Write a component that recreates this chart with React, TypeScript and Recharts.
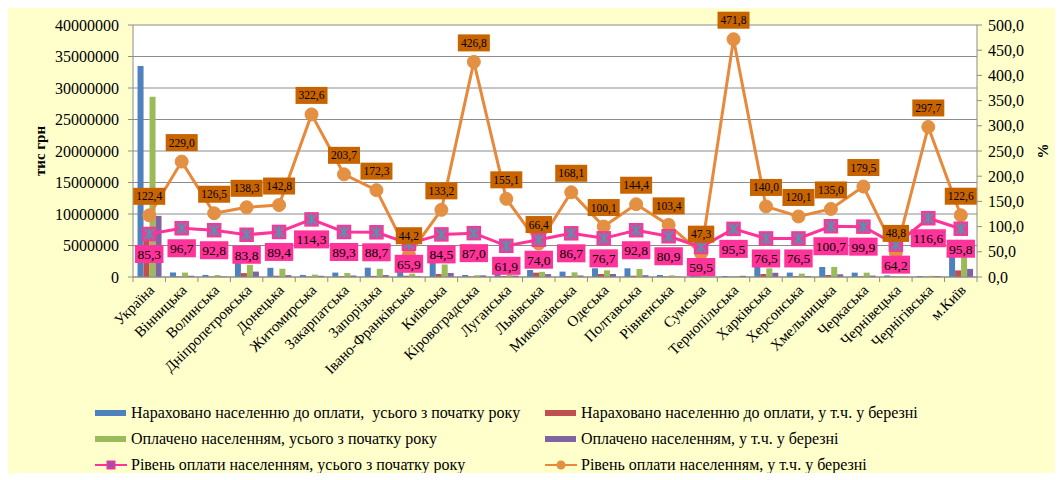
import React from "react";
import {
  ComposedChart,
  Bar,
  Line,
  XAxis,
  YAxis,
  CartesianGrid,
  LabelList,
} from "recharts";

const categories = [
  "Україна", "Вінницька", "Волинська", "Дніпропетровська", "Донецька", "Житомирська",
  "Закарпатська", "Запорізька", "Івано-Франківська", "Київська", "Кіровоградська",
  "Луганська", "Львівська", "Миколаївська", "Одеська", "Полтавська", "Рівненська",
  "Сумська", "Тернопільська", "Харківська", "Херсонська", "Хмельницька", "Черкаська",
  "Чернівецька", "Чернігівська", "м.Київ",
];

const chargedYear = [
  33500000, 720000, 330000, 2300000, 1460000, 330000, 700000, 1480000, 800000, 2350000,
  320000, 600000, 1110000, 850000, 1380000, 1380000, 320000, 350000, 160000, 1800000,
  700000, 1590000, 690000, 250000, 160000, 3550000,
];
const chargedMarch = [
  7900000, 90000, 60000, 620000, 200000, 60000, 120000, 180000, 200000, 480000,
  60000, 150000, 690000, 140000, 480000, 200000, 60000, 120000, 40000, 480000,
  120000, 320000, 120000, 80000, 50000, 1050000,
];
const paidYear = [
  28600000, 700000, 310000, 1930000, 1310000, 380000, 630000, 1310000, 530000, 1990000,
  280000, 370000, 820000, 740000, 1060000, 1280000, 260000, 210000, 150000, 1380000,
  540000, 1600000, 690000, 160000, 190000, 3400000,
];
const paidMarch = [
  9700000, 200000, 80000, 860000, 300000, 190000, 240000, 310000, 90000, 640000,
  260000, 230000, 460000, 240000, 480000, 290000, 60000, 60000, 190000, 670000,
  140000, 430000, 220000, 40000, 150000, 1290000,
];
const rateYear = [
  85.3, 96.7, 92.8, 83.8, 89.4, 114.3, 89.3, 88.7, 65.9, 84.5, 87.0, 61.9, 74.0,
  86.7, 76.7, 92.8, 80.9, 59.5, 95.5, 76.5, 76.5, 100.7, 99.9, 64.2, 116.6, 95.8,
];
const rateMarch = [
  122.4, 229.0, 126.5, 138.3, 142.8, 322.6, 203.7, 172.3, 44.2, 133.2, 426.8, 155.1,
  66.4, 168.1, 100.1, 144.4, 103.4, 47.3, 471.8, 140.0, 120.1, 135.0, 179.5, 48.8,
  297.7, 122.6,
];

const leftTicks = [0, 5000000, 10000000, 15000000, 20000000, 25000000, 30000000, 35000000, 40000000];
const rightTicks = [0, 50, 100, 150, 200, 250, 300, 350, 400, 450, 500];

const seriesNames = [
  "Нараховано населенню до оплати,  усього з початку року",
  "Нараховано населенню до оплати, у т.ч. у березні",
  "Оплачено населенням, усього з початку року",
  "Оплачено населенням, у т.ч. у березні",
  "Рівень оплати населенням, усього з початку року",
  "Рівень оплати населенням, у т.ч. у березні",
];

const COLORS = {
  blue: "#4F81BD",
  red: "#C0504D",
  green: "#9BBB59",
  purple: "#8064A2",
  pink: "#FF3399",
  orange: "#E8883A",
  orangeBox: "#C86400",
  axis: "#8C8C8C",
};

const data = categories.map((name, i) => ({
  name,
  chargedYear: chargedYear[i],
  chargedMarch: chargedMarch[i],
  paidYear: paidYear[i],
  paidMarch: paidMarch[i],
  rateYear: rateYear[i],
  rateMarch: rateMarch[i],
}));

const FONT = "'Liberation Serif', 'Times New Roman', Tinos, 'DejaVu Serif', serif";
const fmtPct = (v: number) => v.toFixed(1).replace(".", ",");

const SquareDot = (props: any) => {
  const { cx, cy } = props;
  if (cx == null || cy == null) return null;
  const s = 6.5;
  return (
    <g>
      <rect x={cx - s} y={cy - s} width={2 * s} height={2 * s} fill="#E0449A" stroke={COLORS.pink} strokeWidth={1.5} />
      <line x1={cx - 5} y1={cy - 5} x2={cx + 5} y2={cy + 5} stroke="#4A9BB0" strokeWidth={1.5} />
      <line x1={cx - 5} y1={cy + 5} x2={cx + 5} y2={cy - 5} stroke="#4A9BB0" strokeWidth={1.5} />
      <line x1={cx} y1={cy - 6} x2={cx} y2={cy + 6} stroke="#4A9BB0" strokeWidth={1.5} />
    </g>
  );
};

const CircleDot = (props: any) => {
  const { cx, cy } = props;
  if (cx == null || cy == null) return null;
  return <circle cx={cx} cy={cy} r={6.5} fill="#E39043" stroke="#E39043" />;
};

const OrangeLabel = (props: any) => {
  const { x, y, value } = props;
  if (x == null || y == null) return null;
  const txt = fmtPct(Number(value));
  const w = txt.length * 5.6 + 4;
  const h = 17;
  const cy = y - 19;
  return (
    <g>
      <rect x={x - w / 2} y={cy - h / 2} width={w} height={h} fill={COLORS.orangeBox} />
      <text x={x} y={cy + 4} textAnchor="middle" fontSize={11.5} fontFamily={FONT} fill="#000">
        {txt}
      </text>
    </g>
  );
};

const PinkLabel = (props: any) => {
  const { x, y, value } = props;
  if (x == null || y == null) return null;
  const txt = fmtPct(Number(value));
  const w = txt.length * 6.6 + 2;
  const h = 18;
  const cy = y + 20;
  return (
    <g>
      <rect x={x - w / 2} y={cy - h / 2} width={w} height={h} fill={COLORS.pink} />
      <text x={x} y={cy + 5} textAnchor="middle" fontSize={13.5} fontFamily={FONT} fill="#000">
        {txt}
      </text>
    </g>
  );
};

const AXIS_Y = 269;

const CatTick = (props: any) => {
  const { x, payload, index } = props;
  const half = payload && payload.offset ? payload.offset : 0;
  const tx = x + 6;
  const ty = 283;
  const last = index === categories.length - 1;
  return (
    <g>
      <line x1={x - half} y1={AXIS_Y} x2={x - half} y2={AXIS_Y + 5} stroke={COLORS.axis} />
      {last ? (
        <line x1={x + half} y1={AXIS_Y} x2={x + half} y2={AXIS_Y + 5} stroke={COLORS.axis} />
      ) : null}
      <text
        x={tx}
        y={ty}
        transform={`rotate(-45 ${tx} ${ty})`}
        textAnchor="end"
        fontSize={15}
        fontFamily={FONT}
        fill="#000"
      >
        {payload.value}
      </text>
    </g>
  );
};

const LegendSwatch = ({ kind, color }: { kind: string; color: string }) => {
  if (kind === "bar") {
    return (
      <svg width={32} height={12} style={{ display: "block" }}>
        <rect x={0} y={3} width={31} height={6} fill={color} />
      </svg>
    );
  }
  return (
    <svg width={32} height={12} style={{ display: "block" }}>
      <line x1={0} y1={6} x2={32} y2={6} stroke={color} strokeWidth={2} />
      {kind === "square" ? (
        <rect x={12} y={2} width={8} height={8} fill="#B04AA8" stroke={color} />
      ) : (
        <circle cx={16} cy={6} r={4.5} fill="#E39043" />
      )}
    </svg>
  );
};

const legendItems = [
  { name: seriesNames[0], kind: "bar", color: COLORS.blue, col: 0, row: 0 },
  { name: seriesNames[1], kind: "bar", color: COLORS.red, col: 1, row: 0 },
  { name: seriesNames[2], kind: "bar", color: COLORS.green, col: 0, row: 1 },
  { name: seriesNames[3], kind: "bar", color: COLORS.purple, col: 1, row: 1 },
  { name: seriesNames[4], kind: "square", color: COLORS.pink, col: 0, row: 2 },
  { name: seriesNames[5], kind: "circle", color: COLORS.orange, col: 1, row: 2 },
];

export default function App() {
  return (
    <div
      style={{
        position: "relative",
        width: 1047,
        height: 465,
        background: "#FFFFCC",
        fontFamily: FONT,
      }}
    >
      <ComposedChart
        width={1047}
        height={465}
        data={data}
        margin={{ top: 17, right: 0, bottom: 66, left: 0 }}
        barCategoryGap="14%"
        barGap={0}
      >
        <CartesianGrid yAxisId="left" vertical={false} stroke={COLORS.axis} fill="#FFFFFF" />
        <XAxis
          dataKey="name"
          interval={0}
          height={130}
          tick={<CatTick />}
          tickLine={false}
          axisLine={{ stroke: COLORS.axis }}
        />
        <YAxis
          yAxisId="left"
          width={125}
          domain={[0, 40000000]}
          ticks={leftTicks}
          interval={0}
          tickSize={5}
          tickMargin={9}
          tickLine={{ stroke: COLORS.axis }}
          axisLine={{ stroke: COLORS.axis }}
          tick={{ fontSize: 16, fontFamily: FONT, fill: "#000" }}
          tickFormatter={(v: number) => String(v)}
          label={{
            content: (p: any) => {
              const vb = p.viewBox;
              const cx = vb.x + 32;
              const cy = vb.y + vb.height / 2;
              return (
                <text x={cx} y={cy} transform={`rotate(-90 ${cx} ${cy})`} textAnchor="middle" fontSize={15} fontWeight="bold" fontFamily={FONT} dy={5}>
                  тис грн
                </text>
              );
            },
          }}
        />
        <YAxis
          yAxisId="right"
          orientation="right"
          width={78}
          domain={[0, 500]}
          ticks={rightTicks}
          interval={0}
          tickSize={5}
          tickMargin={6}
          tickLine={{ stroke: COLORS.axis }}
          axisLine={{ stroke: COLORS.axis }}
          tick={{ fontSize: 16, fontFamily: FONT, fill: "#000" }}
          tickFormatter={(v: number) => fmtPct(v)}
          label={{
            content: (p: any) => {
              const vb = p.viewBox;
              const cx = vb.x + 66;
              const cy = vb.y + vb.height / 2;
              return (
                <text x={cx} y={cy} transform={`rotate(-90 ${cx} ${cy})`} textAnchor="middle" fontSize={15} fontWeight="bold" fontFamily={FONT} dy={5}>
                  %
                </text>
              );
            },
          }}
        />
        <Bar yAxisId="left" dataKey="chargedYear" fill={COLORS.blue} isAnimationActive={false} />
        <Bar yAxisId="left" dataKey="chargedMarch" fill={COLORS.red} isAnimationActive={false} />
        <Bar yAxisId="left" dataKey="paidYear" fill={COLORS.green} isAnimationActive={false} />
        <Bar yAxisId="left" dataKey="paidMarch" fill={COLORS.purple} isAnimationActive={false} />
        <Line
          yAxisId="right"
          type="linear"
          dataKey="rateMarch"
          stroke={COLORS.orange}
          strokeWidth={3}
          dot={<CircleDot />}
          activeDot={false}
          isAnimationActive={false}
        />
        <Line
          yAxisId="right"
          type="linear"
          dataKey="rateYear"
          stroke={COLORS.pink}
          strokeWidth={3}
          dot={<SquareDot />}
          activeDot={false}
          isAnimationActive={false}
        />
        <Line
          yAxisId="right"
          dataKey="rateMarch"
          stroke="none"
          dot={false}
          activeDot={false}
          isAnimationActive={false}
          legendType="none"
        >
          <LabelList dataKey="rateMarch" content={<OrangeLabel />} />
        </Line>
        <Line
          yAxisId="right"
          dataKey="rateYear"
          stroke="none"
          dot={false}
          activeDot={false}
          isAnimationActive={false}
          legendType="none"
        >
          <LabelList dataKey="rateYear" content={<PinkLabel />} />
        </Line>
      </ComposedChart>
      {legendItems.map((it) => (
        <div
          key={it.name}
          style={{
            position: "absolute",
            left: it.col === 0 ? 87 : 537,
            top: 396 + it.row * 26,
            display: "flex",
            alignItems: "center",
            fontSize: 16,
            fontFamily: FONT,
            color: "#000",
            whiteSpace: "pre",
            lineHeight: "18px",
          }}
        >
          <LegendSwatch kind={it.kind} color={it.color} />
          <span style={{ marginLeft: 4 }}>{it.name}</span>
        </div>
      ))}
    </div>
  );
}
